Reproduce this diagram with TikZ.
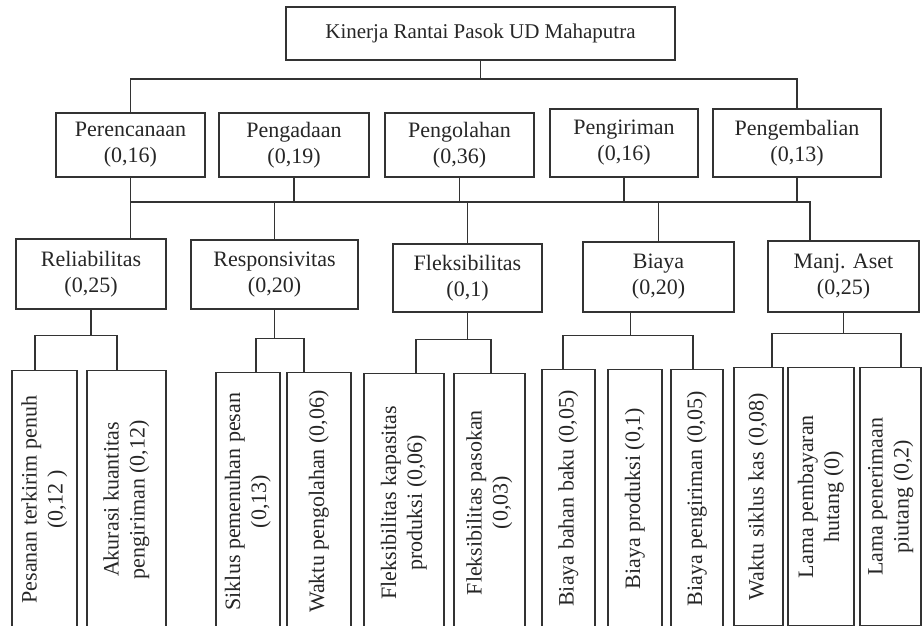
\documentclass[tikz,border=0pt]{standalone}
\usepackage{fontspec}
\setmainfont{Liberation Serif}
\usepackage{graphicx}
\newcommand{\vlabel}[1]{\rotatebox{90}{\begin{tabular}{@{}c@{}}#1\end{tabular}}}

\begin{document}
\begin{tikzpicture}[
		x=1pt, y=1pt,
		line width=1.3pt,
		draw=black!80, text=black!85,
		font=\fontsize{22}{26}\selectfont,
		block/.style={draw, inner sep=0pt, align=center},
		leaf/.style={draw, inner sep=0pt, anchor=north, minimum height=258},
	]
	\useasboundingbox (0,0) rectangle (922,-626);

	\node (top) at (480.5,-33.5) [block, minimum width=389, minimum height=53, font=\fontsize{21}{25}\selectfont] {Kinerja Rantai Pasok UD Mahaputra};

	\node (per) at (130.5,-145) [block, minimum width=149, minimum height=64] {Perencanaan\\(0,16)};
	\node (pga) at (294,-145) [block, minimum width=150, minimum height=64] {Pengadaan\\(0,19)};
	\node (pgo) at (459.5,-145) [block, minimum width=149, minimum height=64] {Pengolahan\\(0,36)};
	\node (pgr) at (624,-143) [block, minimum width=148, minimum height=68] {Pengiriman\\(0,16)};
	\node (pgb) at (797,-143) [block, minimum width=168, minimum height=68] {Pengembalian\\(0,13)};

	\node (rel) at (91,-274) [block, minimum width=150, minimum height=70] {Reliabilitas\\(0,25)};
	\node (res) at (274.5,-274.5) [block, minimum width=167, minimum height=69] {Responsivitas\\(0,20)};
	\node (flk) at (467.5,-278) [block, minimum width=149, minimum height=68] {Fleksibilitas\\(0,1)};
	\node (bia) at (658.5,-277) [block, minimum width=151, minimum height=70] {Biaya\\(0,20)};
	\node (man) at (843.5,-276.5) [block, minimum width=151, minimum height=71] {Manj. Aset\\(0,25)};

	\node (l1) at (44.5,-370) [leaf, minimum width=65] {\vlabel{Pesanan terkirim penuh\\(0,12 )}};
	\node (l2) at (126.5,-370) [leaf, minimum width=79] {\vlabel{Akurasi kuantitas\\pengiriman (0,12)}};
	\node (l3) at (248,-372) [leaf, minimum width=64] {\vlabel{Siklus pemenuhan pesan\\(0,13)}};
	\node (l4) at (319,-372) [leaf, minimum width=64] {\vlabel{Waktu pengolahan (0,06)}};
	\node (l5) at (404,-373) [leaf, minimum width=80] {\vlabel{Fleksibilitas kapasitas\\produksi (0,06)}};
	\node (l6) at (489.5,-373) [leaf, minimum width=71] {\vlabel{Fleksibilitas pasokan\\(0,03)}};
	\node (l7) at (568.5,-369) [leaf, minimum width=53] {\vlabel{Biaya bahan baku (0,05)}};
	\node (l8) at (635,-369) [leaf, minimum width=54] {\vlabel{Biaya produksi (0,1)}};
	\node (l9) at (697,-369) [leaf, minimum width=52] {\vlabel{Biaya pengiriman (0,05)}};
	\node (l10) at (758.5,-367) [leaf, minimum width=49] {\vlabel{Waktu siklus kas (0,08)}};
	\node (l11) at (821,-367) [leaf, minimum width=66] {\vlabel{Lama pembayaran\\hutang (0)}};
	\node (l12) at (890.5,-367) [leaf, minimum width=61] {\vlabel{Lama penerimaan\\piutang (0,2)}};

	\coordinate (b1) at (0,-79);
	\coordinate (b2) at (0,-202);
	\draw (top.south) -- (top.south |- b1);
	\draw (per.north) -- (per.north |- b1) -- (pgb.north |- b1) -- (pgb.north);

	\draw (per.south) -- (per.south |- rel.north);
	\foreach \n in {pga,pgo,pgr,pgb}
		\draw (\n.south) -- (\n.south |- b2);
	\draw (per.south |- b2) -| ([xshift=-33.5pt]man.north);
	\foreach \n in {res,flk,bia}
		\draw (\n.north) -- (\n.north |- b2);

	\draw (rel.south) -- ++(0,-26) coordinate (relb);
	\draw ([xshift=-9.5pt]l1.north) |- (relb) -| ([xshift=-9.5pt]l2.north);
	\draw (res.south) -- ++(0,-29) coordinate (resb);
	\draw ([xshift=8pt]l3.north) |- (resb) -| ([xshift=-15pt]l4.north);
	\draw (flk.south) -- ++(0,-27) coordinate (flkb);
	\draw ([xshift=12pt]l5.north) |- (flkb) -| ([xshift=1.5pt]l6.north);
	\draw ([xshift=-28pt]bia.south) -- ++(0,-23) coordinate (biab);
	\draw ([xshift=-5.5pt]l7.north) |- (biab) -| ([xshift=-4pt]l9.north);
	\draw (man.south) -- ++(0,-21) coordinate (manb);
	\draw ([xshift=13.5pt]l10.north) |- (manb) -| ([xshift=10.5pt]l12.north);
\end{tikzpicture}
\end{document}
